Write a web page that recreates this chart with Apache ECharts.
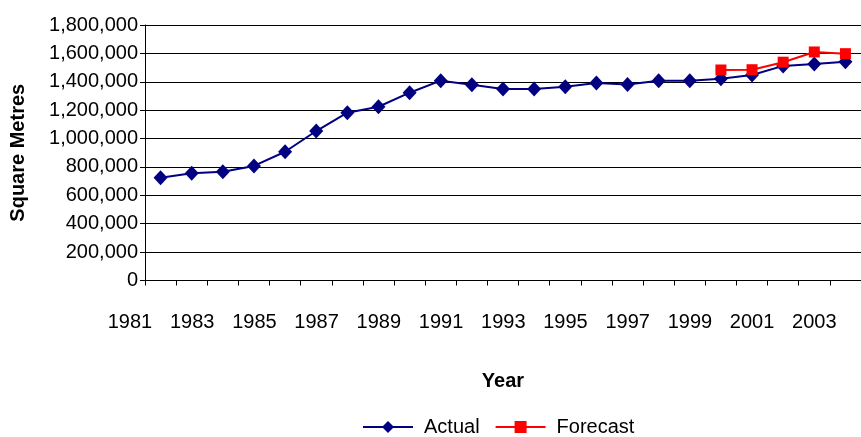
<!DOCTYPE html>
<html>
<head>
<meta charset="utf-8">
<script src="https://cdn.jsdelivr.net/npm/echarts@6/dist/echarts.min.js"></script>
<style>
  html, body { margin: 0; padding: 0; background: #fff; }
  #chart { width: 861px; height: 437px; }
</style>
</head>
<body>
<div id="chart"></div>
<script>
// Floor space by year, actual and forecast
const years = [1982, 1983, 1984, 1985, 1986, 1987, 1988, 1989, 1990, 1991, 1992, 1993,
  1994, 1995, 1996, 1997, 1998, 1999, 2000, 2001, 2002, 2003, 2004];
const actual = [724000, 755000, 766000, 807000, 907000, 1053000, 1182000, 1224000,
  1323000, 1408000, 1379000, 1349000, 1349000, 1365000, 1392000, 1380000, 1408000,
  1408000, 1422000, 1448000, 1512000, 1525000, 1541000];
const forecast = [null, null, null, null, null, null, null, null, null, null, null, null,
  null, null, null, null, null, null, 1483000, 1485000, 1538000, 1610000, 1598000];
// Year labels along the bottom, every other one shown
const labelYears = [1981, 1982, 1983, 1984, 1985, 1986, 1987, 1988, 1989, 1990, 1991, 1992,
  1993, 1994, 1995, 1996, 1997, 1998, 1999, 2000, 2001, 2002, 2003, 2004];
const yMin = 0, yMax = 1800000, yStep = 200000;

const FONT = "'Liberation Sans', Arial, sans-serif";
const fmt = v => String(v).replace(/\B(?=(\d{3})+(?!\d))/g, ',');

const chart = echarts.init(document.getElementById('chart'), null, { renderer: 'canvas' });
chart.setOption({
  animation: false,
  backgroundColor: '#fff',
  textStyle: { fontFamily: FONT, color: '#000' },
  grid: [
    { left: 144, right: -9, top: 25, bottom: 156.5, containLabel: false },
    { left: 114.4, right: -10.8, top: 25, bottom: 156.5, containLabel: false }
  ],
  legend: {
    left: 362, top: 417, padding: 0,
    itemWidth: 50, itemHeight: 15, itemGap: 15,
    textStyle: { fontFamily: FONT, fontSize: 20, color: '#000', padding: [0, 0, 0, 6] },
    data: ['Actual', 'Forecast']
  },
  xAxis: [
    {
      gridIndex: 0, type: 'category', data: years, boundaryGap: true,
      name: 'Year', nameLocation: 'middle', nameGap: 91,
      nameTextStyle: { fontFamily: FONT, fontSize: 20, fontWeight: 'bold', color: '#000' },
      axisLine: { lineStyle: { color: '#000', width: 1 } },
      axisTick: { show: true, interval: 0, length: 5, lineStyle: { color: '#000' } },
      axisLabel: { show: false, interval: 0 },
      splitLine: { show: false }
    },
    {
      gridIndex: 1, type: 'category', data: labelYears, boundaryGap: true,
      axisLine: { show: false }, axisTick: { show: false }, splitLine: { show: false },
      axisLabel: { show: true, interval: 1, margin: 32, fontFamily: FONT, fontSize: 20, color: '#000' }
    }
  ],
  yAxis: [
    {
      gridIndex: 0, type: 'value', min: yMin, max: yMax, interval: yStep,
      name: 'Square Metres', nameLocation: 'middle', nameGap: 117,
      nameTextStyle: { fontFamily: FONT, fontSize: 20, fontWeight: 'bold', color: '#000' },
      axisLine: { show: true, lineStyle: { color: '#000', width: 1 } },
      axisTick: { show: true, length: 5, lineStyle: { color: '#000' } },
      axisLabel: { margin: 7, fontFamily: FONT, fontSize: 20, color: '#000', formatter: fmt },
      splitLine: { show: true, lineStyle: { color: '#000', width: 1 } }
    },
    {
      gridIndex: 1, type: 'value', min: yMin, max: yMax, show: false
    }
  ],
  series: [
    {
      name: 'Actual', type: 'line', xAxisIndex: 0, yAxisIndex: 0, data: actual,
      symbol: 'diamond', symbolSize: [14, 15], showAllSymbol: true,
      lineStyle: { color: '#000080', width: 2 },
      itemStyle: { color: '#000080' }
    },
    {
      name: 'Forecast', type: 'line', xAxisIndex: 0, yAxisIndex: 0, data: forecast,
      symbol: 'rect', symbolSize: 11, showAllSymbol: true,
      lineStyle: { color: '#FF0000', width: 2 },
      itemStyle: { color: '#FF0000' }
    }
  ]
});
</script>
</body>
</html>
